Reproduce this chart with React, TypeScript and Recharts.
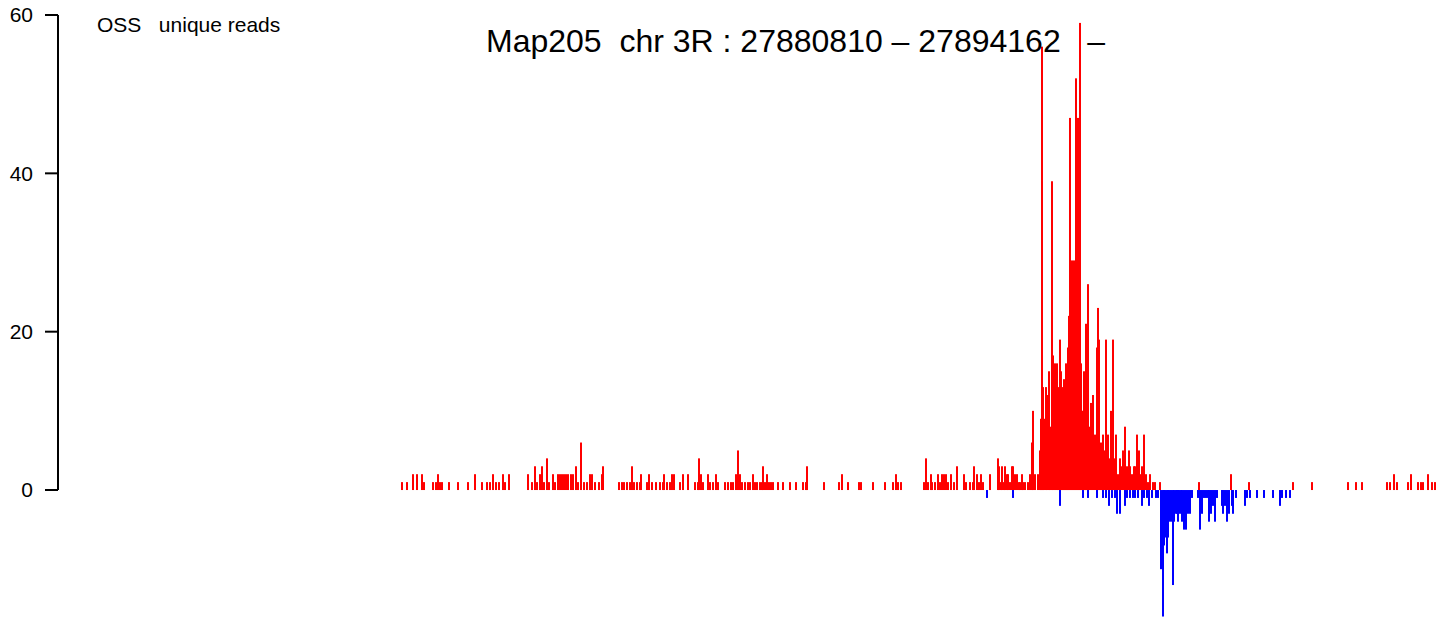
import React from "react";
import { Bar, BarChart, ReferenceLine, XAxis, YAxis } from "recharts";

// Map205 region, positions in bp from region start (27880810)
const TITLE = "Map205  chr 3R : 27880810 \u2013 27894162   \u2013";
const TRACK = "OSS   unique reads";

const yTicks = [0, 20, 40, 60];
const yDomain: [number, number] = [-16, 60];
const xDomain: [number, number] = [-4459, 13507];

// sense strand, [offset, reads]
const plusLeft: [number, number][] = [
  [13, 1], [78, 1], [156, 2], [208, 2], [273, 2], [299, 1], [416, 1], [455, 1], [481, 2], [507, 1],
  [533, 1], [624, 1], [741, 1], [871, 1], [962, 2], [1053, 1], [1118, 1], [1157, 1], [1196, 2], [1235, 1],
  [1274, 1], [1326, 2], [1352, 1], [1404, 2], [1651, 2], [1703, 1], [1742, 3], [1768, 1], [1807, 2], [1833, 3],
  [1859, 1], [1898, 4], [1924, 1], [1976, 2], [2002, 1], [2041, 2], [2067, 2], [2093, 2], [2119, 2], [2145, 2],
  [2171, 2], [2210, 2], [2236, 2], [2275, 3], [2301, 1], [2340, 6], [2379, 1], [2418, 1], [2457, 2], [2483, 2],
  [2522, 1], [2574, 1], [2613, 2], [2626, 3], [2834, 1], [2873, 1], [2899, 1], [2938, 1], [2977, 1], [3003, 3],
  [3029, 1], [3068, 1], [3107, 1], [3120, 2], [3198, 1], [3224, 2], [3263, 1], [3315, 1], [3367, 1], [3406, 1],
  [3419, 2], [3458, 1], [3497, 1], [3523, 2], [3549, 2], [3627, 1], [3666, 2], [3731, 2], [3822, 1], [3861, 1],
  [3874, 4], [3900, 2], [3926, 1], [3991, 2], [4017, 1], [4056, 1], [4095, 2], [4121, 1], [4212, 1], [4251, 1],
  [4290, 1], [4316, 1], [4355, 2], [4381, 5], [4407, 2], [4433, 1], [4472, 1], [4511, 1], [4537, 1], [4576, 2],
  [4602, 1], [4628, 1], [4667, 1], [4693, 1], [4706, 3], [4732, 1], [4758, 2], [4784, 1], [4810, 1], [4836, 1],
  [4901, 1], [4966, 1], [5057, 1], [5135, 1], [5226, 1], [5265, 1], [5278, 3], [5499, 1], [5694, 1], [5733, 2],
  [5811, 1], [5954, 1], [5980, 1], [6136, 1], [6292, 1], [6396, 1], [6435, 2], [6461, 1], [6500, 1], [6799, 1],
  [6825, 4], [6851, 1], [6890, 2], [6903, 1], [6942, 1], [6981, 2], [7007, 1], [7033, 2], [7059, 2], [7085, 2],
  [7111, 1], [7150, 2], [7189, 1], [7228, 3], [7319, 2], [7345, 1], [7397, 1], [7436, 1], [7449, 3], [7488, 2],
  [7514, 1], [7540, 2], [7566, 1], [7657, 2], [7761, 4], [7774, 3], [7800, 1], [7813, 3], [7839, 1], [7852, 3],
  [7878, 2], [7891, 2], [7917, 1], [7943, 3], [7956, 3], [7982, 2], [8008, 2], [8034, 1], [8047, 1], [8073, 2],
  [8086, 1], [8112, 1], [8151, 1], [8177, 2],
];

const plusPeak: [number, number][] = [
  [8203, 6], [8216, 10], [8242, 2], [8281, 2], [8307, 5], [8320, 9], [8333, 56], [8346, 13], [8359, 9], [8385, 13],
  [8398, 12], [8424, 15], [8437, 8], [8463, 39], [8476, 17], [8502, 16], [8528, 16], [8541, 13], [8567, 19], [8580, 15],
  [8593, 13], [8606, 9], [8619, 14], [8632, 8], [8645, 16], [8658, 12], [8671, 18], [8684, 22], [8697, 47], [8710, 20],
  [8723, 29], [8736, 25], [8749, 29], [8762, 24], [8775, 52], [8788, 18], [8801, 47], [8814, 28], [8827, 59], [8840, 16],
  [8853, 10], [8866, 10], [8879, 15], [8892, 14], [8905, 21], [8918, 12], [8931, 26], [8944, 8], [8970, 11], [8996, 12],
  [9022, 7], [9048, 18], [9061, 23], [9074, 19], [9100, 6], [9113, 4], [9126, 7], [9152, 5], [9165, 19], [9191, 7],
  [9217, 4], [9230, 10], [9256, 19], [9269, 4], [9295, 7], [9321, 2], [9347, 4], [9360, 3], [9386, 5], [9412, 8],
  [9438, 3], [9464, 5], [9477, 3], [9503, 2], [9529, 3], [9542, 3], [9568, 7], [9594, 5], [9607, 2], [9633, 3],
  [9659, 7], [9685, 2], [9711, 1], [9737, 2], [9776, 1], [9802, 1], [9867, 1],
];

const plusRight: [number, number][] = [
  [10374, 1], [10790, 2], [11024, 1], [11596, 1], [11843, 1], [12311, 1], [12415, 1], [12493, 1], [12818, 1], [12857, 1],
  [12909, 2], [12948, 1], [13091, 1], [13130, 2], [13221, 1], [13260, 1], [13286, 1], [13351, 2], [13403, 1], [13442, 1],
];

// antisense strand, [offset, reads]
const minusReads: [number, number][] = [
  [7618, 1], [7956, 1], [8567, 2], [8866, 1], [8931, 1], [9048, 1], [9126, 1], [9165, 1], [9204, 2], [9243, 1],
  [9282, 1], [9308, 3], [9347, 3], [9412, 2], [9438, 1], [9477, 1], [9516, 1], [9542, 1], [9581, 1], [9633, 2],
  [9659, 1], [9698, 1], [9724, 2], [9763, 1], [9815, 1], [9841, 1], [9880, 10], [9906, 16], [9919, 7], [9932, 6],
  [9958, 8], [9971, 6], [9984, 4], [10010, 4], [10036, 12], [10049, 4], [10075, 3], [10088, 3], [10101, 4], [10114, 3],
  [10140, 3], [10153, 4], [10179, 5], [10205, 5], [10231, 3], [10257, 3], [10283, 1], [10361, 1], [10387, 5], [10413, 3],
  [10439, 1], [10465, 1], [10491, 1], [10504, 4], [10530, 3], [10556, 2], [10582, 4], [10608, 1], [10673, 2], [10686, 3],
  [10712, 2], [10738, 4], [10764, 3], [10803, 2], [10816, 3], [10855, 1], [10972, 2], [10998, 1], [11037, 1], [11128, 1],
  [11219, 1], [11336, 1], [11427, 2], [11453, 1], [11505, 1], [11557, 1],
];

type Row = { off: number; plus?: number; minus?: number };

const byOffset = new Map<number, Row>();
for (const [off, n] of [...plusLeft, ...plusPeak, ...plusRight]) {
  byOffset.set(off, { ...(byOffset.get(off) ?? { off }), plus: n });
}
for (const [off, n] of minusReads) {
  byOffset.set(off, { ...(byOffset.get(off) ?? { off }), minus: -n });
}
const data = [...byOffset.values()].sort((a, b) => a.off - b.off);

const FONT = "'Liberation Sans', Arial, Helvetica, sans-serif";

// R type="h" style stick, 2px wide, centred on the position
function Stick(props: any) {
  const { x, y, width, height, fill } = props;
  if (!height || !Number.isFinite(height)) return <g />;
  const top = height < 0 ? y + height : y;
  return <rect x={x + width / 2 - 1} y={top} width={2} height={Math.abs(height)} fill={fill} />;
}

export default function App() {
  return (
    <div style={{ position: "absolute", left: 0, top: 0, width: 1446, height: 623, background: "#fff" }}>
      <BarChart
        width={1446}
        height={623}
        data={data}
        stackOffset="sign"
        margin={{ top: 15, right: 6, bottom: 6.3, left: 0 }}
      >
        <XAxis type="number" dataKey="off" domain={xDomain} hide allowDataOverflow />
        <YAxis
          type="number"
          domain={yDomain}
          ticks={yTicks}
          interval={0}
          width={58}
          allowDataOverflow
          axisLine={false}
          tickSize={13}
          tickMargin={12}
          tickLine={{ stroke: "#000", strokeWidth: 2 }}
          tick={{ fill: "#000", fontSize: 21, fontFamily: FONT }}
        />
        <ReferenceLine
          segment={[
            { x: xDomain[0], y: 0 },
            { x: xDomain[0], y: 60 },
          ]}
          stroke="#000"
          strokeWidth={2}
          ifOverflow="visible"
        />
        <Bar dataKey="plus" stackId="s" fill="#ff0000" shape={<Stick />} isAnimationActive={false} />
        <Bar dataKey="minus" stackId="s" fill="#0000ff" shape={<Stick />} isAnimationActive={false} />
      </BarChart>
      <svg
        width={1446}
        height={623}
        style={{ position: "absolute", left: 0, top: 0, pointerEvents: "none" }}
      >
        <text x={97} y={32} fontSize={21} fontFamily={FONT} fill="#000" style={{ whiteSpace: "pre" }}>
          {TRACK}
        </text>
        <text x={486} y={52} fontSize={32} fontFamily={FONT} fill="#000" style={{ whiteSpace: "pre" }}>
          {TITLE}
        </text>
      </svg>
    </div>
  );
}
